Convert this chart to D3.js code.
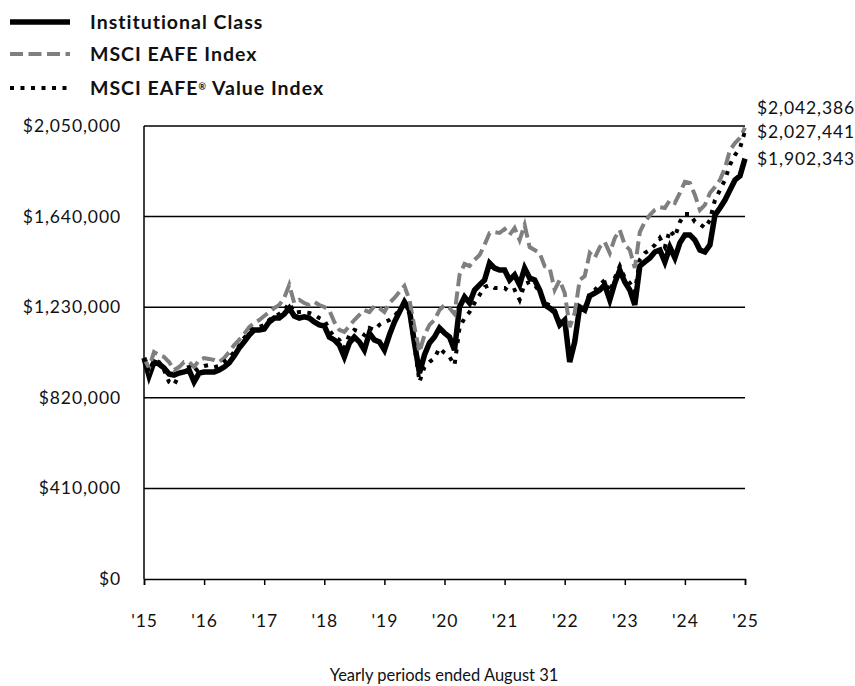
<!DOCTYPE html>
<html>
<head>
<meta charset="utf-8">
<script src="https://cdn.jsdelivr.net/npm/d3@7"></script>
<style>
  body { margin: 0; background: #fff; }
  svg text { font-family: Lato, "Open Sans", sans-serif; fill: #111; }
</style>
</head>
<body>
<div id="chart"></div>
<script>
// values in $ thousands, monthly from Aug 2015 to Aug 2025
var institutional = [
  1000, 919, 982, 973, 955, 928, 923, 932, 937, 946, 892, 932,
  937, 937, 937, 946, 959, 978, 1009, 1045, 1073, 1104, 1127, 1127,
  1131, 1163, 1181, 1181, 1199, 1226, 1190, 1181, 1186, 1181, 1163, 1150,
  1145, 1095, 1082, 1059, 1005, 1068, 1095, 1073, 1036, 1113, 1082, 1073,
  1036, 1104, 1163, 1208, 1254, 1217, 1068, 932, 1014, 1068, 1095, 1136,
  1113, 1095, 1036, 1231, 1276, 1249, 1308, 1331, 1353, 1430, 1407, 1398,
  1398, 1353, 1376, 1331, 1407, 1362, 1353, 1308, 1240, 1226, 1208, 1150,
  1172, 982, 1073, 1231, 1217, 1281, 1294, 1308, 1331, 1263, 1340, 1398,
  1344, 1308, 1240, 1416, 1435, 1453, 1480, 1489, 1435, 1502, 1453, 1521,
  1557, 1557, 1534, 1489, 1480, 1512, 1647, 1679, 1715, 1760, 1806, 1824,
  1902.343
];
var eafe = [
  1000, 955, 1027, 1014, 1005, 982, 946, 959, 982, 982, 959, 991,
  1000, 996, 991, 982, 1000, 1027, 1059, 1082, 1109, 1140, 1159, 1172,
  1190, 1208, 1226, 1240, 1272, 1331, 1249, 1263, 1249, 1240, 1254, 1240,
  1231, 1217, 1163, 1127, 1118, 1145, 1172, 1195, 1217, 1208, 1235, 1226,
  1208, 1249, 1272, 1299, 1326, 1263, 1140, 1027, 1104, 1150, 1172, 1217,
  1240, 1226, 1199, 1376, 1426, 1416, 1444, 1466, 1512, 1566, 1570, 1566,
  1584, 1557, 1588, 1534, 1602, 1502, 1489, 1475, 1416, 1407, 1308, 1353,
  1294, 1140, 1204, 1353, 1371, 1475, 1453, 1502, 1525, 1475, 1543, 1579,
  1512, 1489, 1407, 1570, 1616, 1647, 1670, 1683, 1679, 1715, 1702, 1747,
  1797, 1792, 1738, 1670, 1693, 1747, 1774, 1806, 1860, 1941, 1973, 1996,
  2042.386
];
var eafeValue = [
  1000, 937, 991, 982, 946, 892, 878, 923, 955, 959, 937, 955,
  964, 968, 959, 964, 982, 1000, 1027, 1054, 1091, 1118, 1136, 1140,
  1150, 1172, 1190, 1199, 1217, 1249, 1204, 1208, 1208, 1204, 1195, 1181,
  1172, 1127, 1095, 1082, 1045, 1104, 1127, 1118, 1104, 1136, 1127, 1150,
  1163, 1172, 1190, 1217, 1240, 1204, 1059, 892, 959, 982, 1000, 1045,
  1023, 1005, 968, 1136, 1181, 1208, 1249, 1285, 1321, 1331, 1317, 1317,
  1317, 1299, 1308, 1263, 1335, 1344, 1331, 1299, 1249, 1240, 1217, 1163,
  1181, 1005, 1082, 1231, 1226, 1294, 1308, 1331, 1353, 1299, 1362, 1416,
  1362, 1340, 1299, 1444, 1475, 1489, 1512, 1543, 1502, 1579, 1548, 1616,
  1652, 1652, 1616, 1607, 1588, 1625, 1715, 1760, 1806, 1874, 1919, 1950,
  2027.441
];
var yearLabels = ["'15", "'16", "'17", "'18", "'19", "'20", "'21", "'22", "'23", "'24", "'25"];
var yTicks = [0, 410000, 820000, 1230000, 1640000, 2050000];
var endLabels = ["$2,042,386", "$2,027,441", "$1,902,343"];
var seriesNames = ["Institutional Class", "MSCI EAFE Index", "MSCI EAFE"];

var W = 855, H = 686;
var m = { left: 144, right: 745, top: 126, bottom: 579 };

var svg = d3.select('#chart').append('svg')
  .attr('width', W).attr('height', H);

var x = d3.scaleLinear().domain([0, 120]).range([m.left, m.right]);
var y = d3.scaleLinear().domain([0, 2050000]).range([m.bottom, m.top]);
var fmt = d3.format('$,.0f');

/* gridlines */
svg.append('g').selectAll('line').data(yTicks.slice(1)).enter().append('line')
  .attr('x1', m.left).attr('x2', m.right)
  .attr('y1', function (d) { return y(d); }).attr('y2', function (d) { return y(d); })
  .attr('stroke', '#000').attr('stroke-width', 1.5);

/* y labels */
svg.append('g').selectAll('text').data(yTicks).enter().append('text')
  .attr('x', 121).attr('y', function (d) { return y(d) + 6; })
  .attr('text-anchor', 'end').attr('font-size', 17.5)
  .attr('letter-spacing', 0.9)
  .text(function (d) { return fmt(d); });

/* x axis */
var xAxis = d3.axisBottom(x)
  .tickValues(d3.range(0, 121, 12))
  .tickSize(6).tickPadding(30)
  .tickFormat(function (d, i) { return yearLabels[i]; });
var gx = svg.append('g').attr('transform', 'translate(0,' + m.bottom + ')').call(xAxis);
gx.select('.domain').attr('stroke', '#000').attr('stroke-width', 1.5);
gx.selectAll('.tick line').attr('stroke', '#000').attr('stroke-width', 1.5);
gx.selectAll('.tick text').attr('font-size', 17.5).attr('font-family', 'Lato')
  .attr('letter-spacing', 0.9).attr('fill', '#111');

svg.append('line')
  .attr('x1', m.left).attr('x2', m.left).attr('y1', m.top).attr('y2', m.bottom)
  .attr('stroke', '#000').attr('stroke-width', 1.5);

svg.append('text')
  .attr('x', 444).attr('y', 681).attr('text-anchor', 'middle').attr('font-size', 16.5)
  .text('Yearly periods ended August 31');

/* series */
var styles = [
  { data: institutional, color: '#000', width: 5.5, dash: null },
  { data: eafe, color: '#7f7f7f', width: 4, dash: '13,5.5' },
  { data: eafeValue, color: '#000', width: 4, dash: '4,6.5' }
];
var line = d3.line()
  .x(function (d, i) { return x(i); })
  .y(function (d) { return y(d * 1000); });

styles.forEach(function (s) {
  svg.append('path').datum(s.data)
    .attr('d', line)
    .attr('fill', 'none')
    .attr('stroke', s.color)
    .attr('stroke-width', s.width)
    .attr('stroke-dasharray', s.dash)
    .attr('stroke-linejoin', 'miter');
});

/* end labels */
[114, 138, 165].forEach(function (ty, i) {
  svg.append('text').attr('x', 757).attr('y', ty)
    .attr('font-size', 17.5).attr('letter-spacing', 0.9).text(endLabels[i]);
});

/* legend */
var legY = [22, 54, 88];
styles.forEach(function (s, i) {
  svg.append('line')
    .attr('x1', 10).attr('x2', 70).attr('y1', legY[i]).attr('y2', legY[i])
    .attr('stroke', s.color).attr('stroke-width', s.width)
    .attr('stroke-dasharray', s.dash);
  var t = svg.append('text').attr('x', 90).attr('y', legY[i] + 7)
    .attr('font-size', 19.5).attr('font-weight', 'bold').attr('letter-spacing', 1)
    .text(seriesNames[i]);
  if (i === 2) {
    t.append('tspan').attr('baseline-shift', 'super').attr('font-size', 9).text('®');
    t.append('tspan').text(' Value Index');
  }
});
</script>
</body>
</html>
